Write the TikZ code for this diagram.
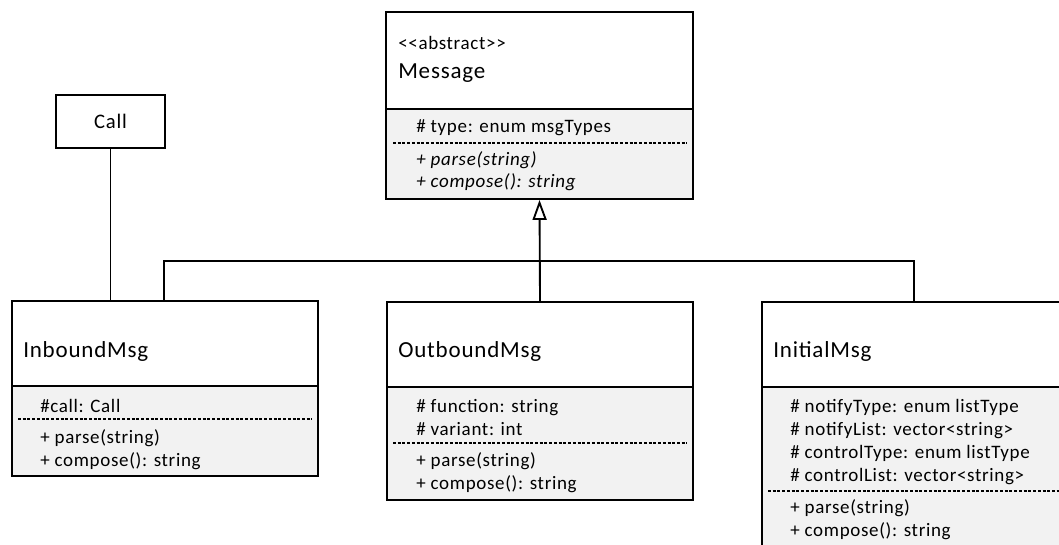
\documentclass[tikz,border=0pt]{standalone}
\usepackage{fontspec}
\setmainfont{Carlito}[LetterSpace=3.5]
\usetikzlibrary{arrows.meta,fit,calc}
\definecolor{compgray}{RGB}{242,242,242}
\begin{document}
\begin{tikzpicture}[x=0.75pt,y=-0.75pt,
  box/.style={draw, line width=1.4pt, inner sep=0pt},
  sep/.style={line width=1.4pt},
  dsep/.style={line width=0.9pt, dash pattern=on 2.25pt off 1.3pt},
  title/.style={anchor=base west, inner sep=0pt, font=\fontsize{17.25}{20}\selectfont},
  member/.style={anchor=base west, inner sep=0pt, font=\fontsize{14.25}{17}\selectfont},
  imember/.style={member, font=\fontsize{14.25}{17}\selectfont\itshape},
  conn/.style={line width=1.4pt}]
\useasboundingbox (0,0) rectangle (1059,545);
\clip (0,0) rectangle (1059,545);
\fill[white] (0,0) rectangle (1059,545);

% compartment fills
\fill[compgray] (386,109) rectangle (693,199);
\fill[compgray] (12,386) rectangle (318,476);
\fill[compgray] (387,387) rectangle (693,500);
\fill[compgray] (762,387) rectangle (1100,600);

% boxes
\node[box, fit={(386,12) (693,199)}] (msg) {};
\node[box, fit={(56,95) (165,148)}] (call) {};
\node[box, fit={(12,301) (318,476)}] (inb) {};
\node[box, fit={(387,302) (693,500)}] (out) {};
\node[box, fit={(762,302) (1100,600)}] (init) {};

% dividers
\draw[sep] (386,109) -- (693,109);
\draw[sep] (12,386) -- (318,386);
\draw[sep] (387,387) -- (693,387);
\draw[sep] (762,387) -- (1100,387);
\draw[dsep] (393,143) -- (687,143);
\draw[dsep] (18,419) -- (312,419);
\draw[dsep] (393,443) -- (687,443);
\draw[dsep] (768,491) -- (1100,491);

% Message
\node[member] (msgst) at (398,50) {<{}<abstract>{}>};
\node[title] (msgt) at (398,79) {Message};
\node[member] (msga1) at (416,133) {\# type: enum msgTypes};
\node[imember] (msgm1) at (416,166) {+ parse(string)};
\node[imember] (msgm2) at (416,188) {+ compose(): string};

% Call
\node[inner sep=0pt, font=\fontsize{15.5}{18}\selectfont] (callt) at (call.center) {Call};

% InboundMsg
\node[title] (inbt) at (23,357) {InboundMsg};
\node[member] (inba1) at (40,412) {\#call: Call};
\node[member] (inbm1) at (40,443) {+ parse(string)};
\node[member] (inbm2) at (40,466) {+ compose(): string};

% OutboundMsg
\node[title] (outt) at (398,357) {OutboundMsg};
\node[member] (outa1) at (416,412) {\# function: string};
\node[member] (outa2) at (416,435) {\# variant: int};
\node[member] (outm1) at (416,466) {+ parse(string)};
\node[member] (outm2) at (416,489) {+ compose(): string};

% InitialMsg
\node[title] (initt) at (773,357) {InitialMsg};
\node[member] (inita1) at (790,412) {\# notifyType: enum listType};
\node[member] (inita2) at (790,435) {\# notifyList: vector<string>};
\node[member] (inita3) at (790,458) {\# controlType: enum listType};
\node[member] (inita4) at (790,481) {\# controlList: vector<string>};
\node[member] (initm1) at (790,513) {+ parse(string)};
\node[member] (initm2) at (790,536) {+ compose(): string};

% connectors
\draw[conn] (call.south) -- (call.south |- inb.north);
\coordinate (bus) at (540,261);
\draw[conn] ($(inb.north west)+(153,0)$) |- (bus) -| ($(init.north west)+(153,0)$);
\draw[conn, -{Triangle[open, length=15pt, width=10.5pt, fill=white]}] (out.north) -- (msg.south);
\end{tikzpicture}
\end{document}
